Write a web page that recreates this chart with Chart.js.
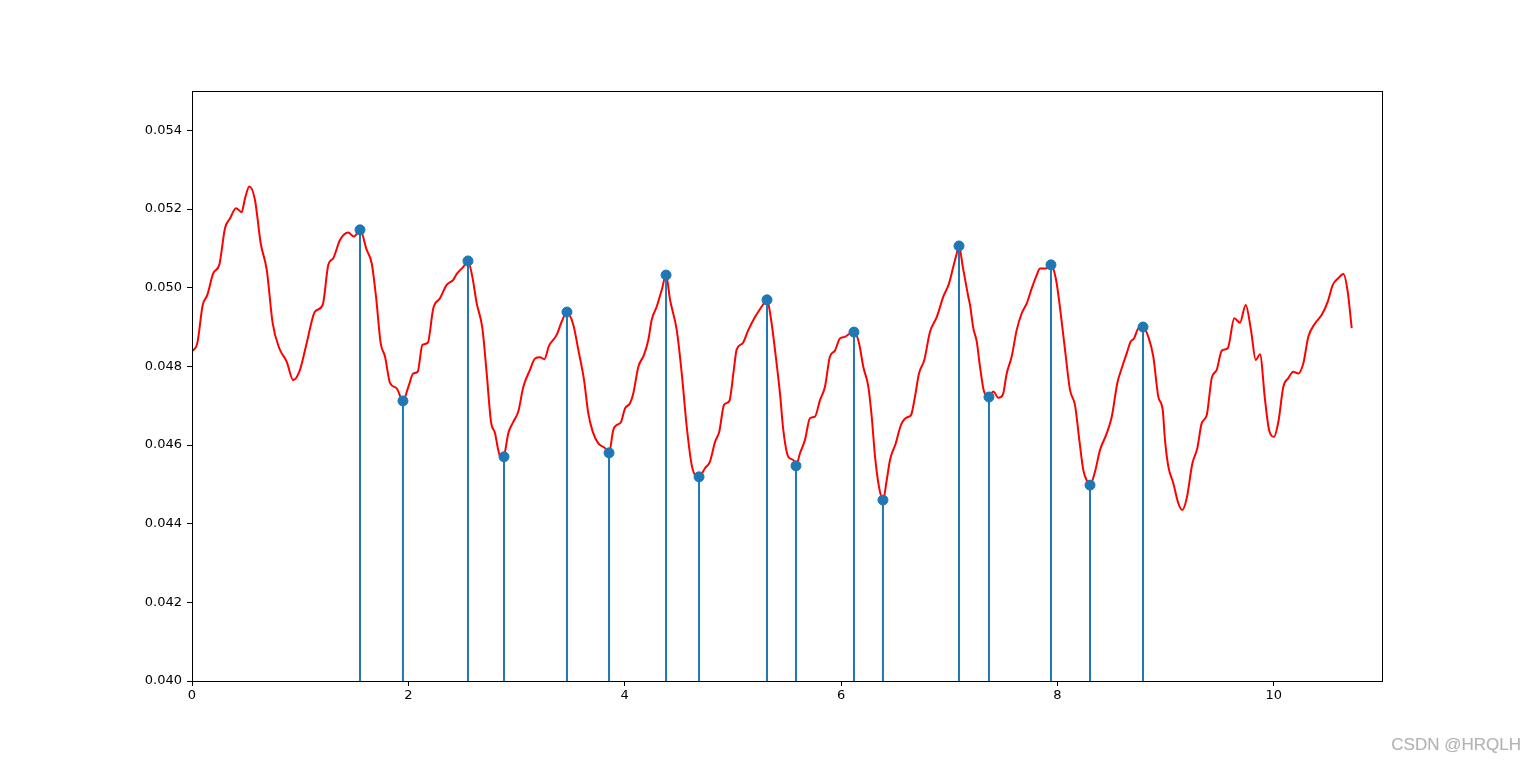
<!DOCTYPE html>
<html>
<head>
<meta charset="utf-8">
<script src="https://cdn.jsdelivr.net/npm/chart.js@4"></script>
<style>
  body { margin: 0; background: #fff; }
  #wrap { position: relative; width: 1536px; height: 765px; }
  #mark {
    position: absolute; right: 15px; top: 735px;
    font-family: "Liberation Sans", Arial, sans-serif; font-size: 17px;
    color: #b4b4b4; text-shadow: 0 0 1px #ddd;
  }
</style>
</head>
<body>
<div id="wrap">
  <canvas id="chart" width="1536" height="765"></canvas>
  <div id="mark">CSDN @HRQLH</div>
</div>
<script>
const curveX = [0, 0.049, 0.099, 0.141, 0.197, 0.252, 0.305, 0.351, 0.407, 0.459,
  0.490, 0.530, 0.582, 0.635, 0.691, 0.746, 0.807, 0.875, 0.936, 0.998,
  1.060, 1.137, 1.208, 1.260, 1.306, 1.368, 1.445, 1.497, 1.553, 1.615,
  1.661, 1.701, 1.744, 1.784, 1.830, 1.892, 1.950, 2.000, 2.046, 2.086,
  2.129, 2.179, 2.231, 2.292, 2.354, 2.415, 2.447, 2.508, 2.551, 2.591,
  2.632, 2.684, 2.724, 2.764, 2.801, 2.831, 2.863, 2.884, 2.924, 2.970,
  3.016, 3.063, 3.124, 3.171, 3.217, 3.257, 3.300, 3.371, 3.418, 3.466,
  3.525, 3.571, 3.624, 3.663, 3.704, 3.756, 3.818, 3.855, 3.894, 3.926,
  3.963, 4.003, 4.049, 4.079, 4.126, 4.178, 4.218, 4.249, 4.296, 4.342,
  4.382, 4.419, 4.481, 4.527, 4.573, 4.619, 4.650, 4.687, 4.742, 4.788,
  4.835, 4.874, 4.918, 4.967, 5.010, 5.035, 5.091, 5.142, 5.189, 5.235,
  5.276, 5.315, 5.349, 5.389, 5.435, 5.466, 5.512, 5.558, 5.583, 5.620,
  5.666, 5.712, 5.758, 5.805, 5.851, 5.897, 5.943, 5.989, 6.035, 6.082,
  6.119, 6.166, 6.205, 6.252, 6.283, 6.314, 6.350, 6.387, 6.422, 6.452,
  6.505, 6.554, 6.607, 6.646, 6.683, 6.720, 6.769, 6.822, 6.884, 6.945,
  6.998, 7.037, 7.069, 7.090, 7.125, 7.176, 7.192, 7.222, 7.254, 7.284,
  7.321, 7.367, 7.407, 7.453, 7.494, 7.531, 7.577, 7.623, 7.670, 7.716,
  7.762, 7.808, 7.839, 7.894, 7.940, 7.987, 8.024, 8.070, 8.116, 8.162,
  8.202, 8.239, 8.276, 8.301, 8.347, 8.393, 8.449, 8.502, 8.553, 8.594,
  8.640, 8.677, 8.708, 8.748, 8.791, 8.840, 8.886, 8.932, 8.973, 8.994,
  9.025, 9.071, 9.117, 9.154, 9.195, 9.247, 9.293, 9.333, 9.380, 9.426,
  9.472, 9.519, 9.574, 9.635, 9.687, 9.740, 9.789, 9.833, 9.872, 9.919,
  9.956, 10.002, 10.042, 10.088, 10.134, 10.180, 10.226, 10.273, 10.319, 10.381,
  10.443, 10.498, 10.545, 10.596, 10.643, 10.683, 10.720];

const curveY = [0.04838, 0.04859, 0.04956, 0.04981, 0.05037, 0.05058, 0.05151, 0.05176, 0.05202, 0.05192,
  0.05227, 0.05257, 0.05223, 0.05113, 0.05045, 0.04909, 0.04846, 0.04812, 0.04765, 0.04791,
  0.04859, 0.04939, 0.04956, 0.05058, 0.05075, 0.05121, 0.05140, 0.05130, 0.05147, 0.05096,
  0.05062, 0.04977, 0.04859, 0.04825, 0.04758, 0.04744, 0.04712, 0.04748, 0.04782, 0.04786,
  0.04854, 0.04860, 0.04948, 0.04973, 0.05007, 0.05020, 0.05035, 0.05053, 0.05068, 0.05028,
  0.04960, 0.04897, 0.04782, 0.04659, 0.04630, 0.04587, 0.04562, 0.04570, 0.04630, 0.04659,
  0.04685, 0.04748, 0.04791, 0.04820, 0.04823, 0.04818, 0.04852, 0.04880, 0.04914, 0.04938,
  0.04905, 0.04842, 0.04765, 0.04681, 0.04634, 0.04604, 0.04592, 0.04580, 0.04638, 0.04651,
  0.04657, 0.04693, 0.04706, 0.04731, 0.04799, 0.04829, 0.04867, 0.04918, 0.04952, 0.04994,
  0.05032, 0.04969, 0.04892, 0.04782, 0.04647, 0.04549, 0.04524, 0.04519, 0.04541, 0.04558,
  0.04608, 0.04634, 0.04702, 0.04712, 0.04795, 0.04843, 0.04859, 0.04892, 0.04918, 0.04939,
  0.04956, 0.04969, 0.04926, 0.04842, 0.04731, 0.04638, 0.04570, 0.04562, 0.04547, 0.04579,
  0.04613, 0.04668, 0.04672, 0.04714, 0.04748, 0.04825, 0.04840, 0.04871, 0.04875, 0.04884,
  0.04887, 0.04859, 0.04799, 0.04748, 0.04672, 0.04570, 0.04494, 0.04460, 0.04511, 0.04562,
  0.04604, 0.04651, 0.04670, 0.04676, 0.04723, 0.04782, 0.04816, 0.04888, 0.04925, 0.04977,
  0.05011, 0.05053, 0.05087, 0.05106, 0.05053, 0.04977, 0.04956, 0.04897, 0.04863, 0.04799,
  0.04736, 0.04722, 0.04736, 0.04720, 0.04727, 0.04782, 0.04825, 0.04892, 0.04935, 0.04960,
  0.04998, 0.05032, 0.05049, 0.05049, 0.05058, 0.05020, 0.04948, 0.04842, 0.04740, 0.04702,
  0.04613, 0.04536, 0.04507, 0.04498, 0.04532, 0.04587, 0.04625, 0.04672, 0.04757, 0.04795,
  0.04833, 0.04863, 0.04871, 0.04897, 0.04900, 0.04875, 0.04825, 0.04723, 0.04689, 0.04613,
  0.04545, 0.04503, 0.04452, 0.04435, 0.04465, 0.04553, 0.04592, 0.04655, 0.04676, 0.04770,
  0.04791, 0.04840, 0.04846, 0.04922, 0.04911, 0.04956, 0.04892, 0.04816, 0.04831, 0.04714,
  0.04638, 0.04621, 0.04659, 0.04748, 0.04770, 0.04786, 0.04782, 0.04808, 0.04875, 0.04909,
  0.04931, 0.04964, 0.05007, 0.05024, 0.05035, 0.04990, 0.04897];

// peaks / troughs marked with stems
const stemX = [1.553, 1.950, 2.551, 2.884, 3.466, 3.855, 4.382, 4.687, 5.315,
  5.583, 6.119, 6.387, 7.090, 7.367, 7.940, 8.301, 8.791];
const stemY = [0.05147, 0.04712, 0.05068, 0.04570, 0.04938, 0.04580, 0.05032, 0.04519, 0.04969,
  0.04547, 0.04887, 0.04460, 0.05106, 0.04722, 0.05058, 0.04498, 0.04900];
const stemBase = 0.040;

const xTicks = [0, 2, 4, 6, 8, 10];
const yTicks = [0.040, 0.042, 0.044, 0.046, 0.048, 0.050, 0.052, 0.054];
const xMin = 0, xMax = 11;
const yMin = 0.040, yMax = 0.055;

const curveData = curveX.map((x, i) => ({ x: x, y: curveY[i] }));
const dotData = stemX.map((x, i) => ({ x: x, y: stemY[i] }));
const stemData = [];
stemX.forEach((x, i) => {
    stemData.push({ x: x, y: stemBase });
    stemData.push({ x: x, y: stemY[i] });
    stemData.push({ x: x, y: null });
});

const frame = {
    id: "frame",
    afterDatasetsDraw(chart) {
        const a = chart.chartArea;
        const ctx = chart.ctx;
        ctx.save();
        ctx.strokeStyle = "#000";
        ctx.lineWidth = 1;
        ctx.strokeRect(Math.round(a.left) + 0.5, Math.round(a.top) + 0.5,
            Math.round(a.right - a.left), Math.round(a.bottom - a.top));
        ctx.restore();
    }
};

const tickFont = { family: "DejaVu Sans", size: 13 };

new Chart(document.getElementById("chart"), {
    type: "line",
    data: {
        datasets: [
            {
                type: "scatter",
                data: dotData,
                backgroundColor: "#1f77b4",
                borderColor: "#1f77b4",
                pointRadius: 5,
                order: 0
            },
            {
                data: stemData,
                borderColor: "#1f77b4",
                borderWidth: 2,
                pointRadius: 0,
                spanGaps: false,
                order: 1
            },
            {
                data: curveData,
                borderColor: "#ff0000",
                borderWidth: 2,
                pointRadius: 0,
                cubicInterpolationMode: "monotone",
                order: 2
            }
        ]
    },
    options: {
        responsive: false,
        animation: false,
        devicePixelRatio: 1,
        layout: { padding: { top: 91, right: 154, bottom: 50, left: 0 } },
        plugins: { legend: { display: false }, tooltip: { enabled: false } },
        scales: {
            x: {
                type: "linear",
                min: xMin,
                max: xMax,
                afterBuildTicks: s => { s.ticks = xTicks.map(v => ({ value: v })); },
                afterFit: s => { s.height = 34; },
                grid: { drawOnChartArea: false, tickLength: 5, color: "#000" },
                border: { color: "#000" },
                ticks: { color: "#000", font: tickFont, padding: 2, maxRotation: 0,
                    callback: v => String(v) }
            },
            y: {
                type: "linear",
                min: yMin,
                max: yMax,
                afterBuildTicks: s => { s.ticks = yTicks.map(v => ({ value: v })); },
                afterFit: s => { s.width = 192; },
                grid: { drawOnChartArea: false, tickLength: 5, color: "#000" },
                border: { color: "#000" },
                ticks: { color: "#000", font: tickFont, padding: 5,
                    callback: v => v.toFixed(3) }
            }
        }
    },
    plugins: [frame]
});
</script>
</body>
</html>
